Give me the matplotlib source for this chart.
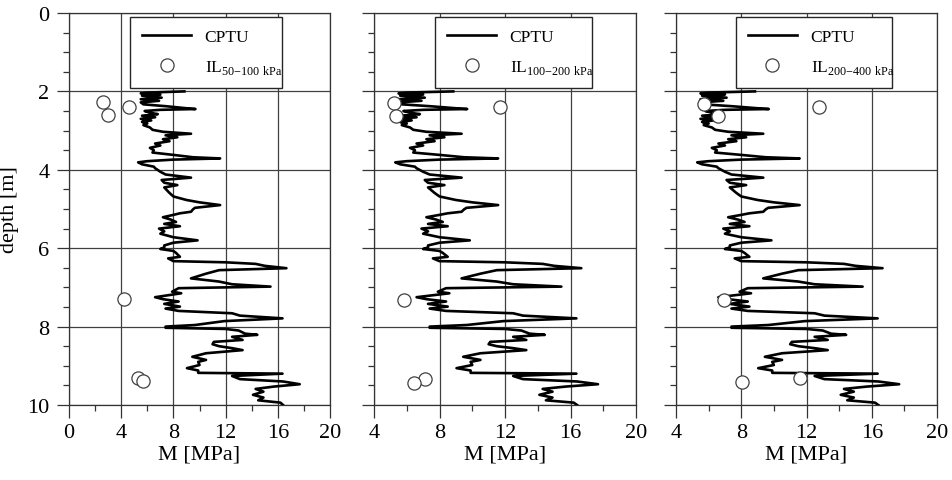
import matplotlib
matplotlib.use("Agg")
import matplotlib.pyplot as plt
from matplotlib.lines import Line2D
from matplotlib.ticker import MultipleLocator

plt.rcParams['font.family'] = ['Liberation Serif', 'DejaVu Serif']
plt.rcParams['mathtext.fontset'] = 'custom'
plt.rcParams['mathtext.rm'] = 'Liberation Serif'

# CPTU constrained modulus profile (depth [m], M [MPa])
cptu_depth = [2.00, 2.03, 2.05, 2.08, 2.11, 2.16, 2.20, 2.24, 2.28, 2.33, 2.38, 2.43, 2.45, 2.47,
              2.50, 2.55, 2.58, 2.62, 2.66, 2.70, 2.74, 2.78, 2.82, 2.86, 2.92, 2.98, 3.03, 3.08,
              3.12, 3.17, 3.22, 3.27, 3.33, 3.38, 3.44, 3.50, 3.56, 3.62, 3.68, 3.71, 3.74, 3.78,
              3.81, 3.86, 3.92, 3.96, 4.05, 4.12, 4.20, 4.26, 4.33, 4.39, 4.45, 4.52, 4.59, 4.68,
              4.77, 4.83, 4.90, 4.97, 5.01, 5.07, 5.11, 5.15, 5.21, 5.27, 5.33, 5.38, 5.44, 5.50,
              5.57, 5.63, 5.72, 5.80, 5.86, 5.93, 5.98, 6.02, 6.07, 6.12, 6.22, 6.26, 6.33, 6.36,
              6.40, 6.45, 6.51, 6.56, 6.65, 6.77, 6.85, 6.92, 6.98, 7.02, 7.11, 7.15, 7.25, 7.30,
              7.36, 7.42, 7.49, 7.54, 7.60, 7.66, 7.72, 7.79, 7.86, 7.96, 8.00, 8.03, 8.06, 8.10,
              8.18, 8.21, 8.26, 8.34, 8.39, 8.45, 8.50, 8.55, 8.60, 8.68, 8.77, 8.85, 8.90, 8.98,
              9.06, 9.12, 9.18, 9.20, 9.26, 9.34, 9.40, 9.47, 9.53, 9.59, 9.66, 9.74, 9.81, 9.88,
              9.94, 10.00]
cptu_M = [8.84, 6.0, 5.5, 7.0, 5.6, 7.1, 5.5, 6.9, 5.5, 5.7, 7.5, 9.0, 9.69, 7.0,
          5.8, 6.3, 6.8, 5.6, 6.6, 5.5, 6.3, 5.6, 6.0, 5.7, 6.2, 6.4, 7.2, 9.35,
          7.4, 8.3, 7.2, 7.7, 6.6, 7.0, 6.2, 6.5, 6.4, 8.0, 9.5, 11.58, 8.0, 6.0,
          5.3, 5.6, 6.5, 6.6, 7.0, 7.4, 9.35, 7.1, 7.3, 8.3, 7.3, 7.5, 7.7, 8.0,
          9.0, 10.0, 11.58, 9.65, 9.5, 9.35, 8.5, 8.0, 7.2, 7.8, 8.2, 7.3, 8.5, 6.9,
          7.3, 7.0, 8.0, 9.85, 8.0, 7.3, 7.3, 7.0, 8.0, 8.2, 8.5, 7.6, 8.0, 12.0,
          14.3, 15.0, 16.66, 11.5, 10.5, 9.35, 11.48, 12.5, 15.44, 8.4, 7.9, 8.6, 6.6, 7.2,
          8.4, 7.3, 8.5, 7.4, 8.4, 12.5, 13.1, 16.36, 11.9, 9.65, 7.4, 7.4, 12.0, 13.0,
          13.5, 14.43, 12.5, 13.3, 11.1, 11.0, 11.5, 12.5, 13.3, 10.5, 9.45, 10.5, 9.9, 10.0,
          9.04, 9.9, 9.9, 16.36, 12.5, 13.1, 16.4, 17.68, 15.7, 14.3, 14.9, 14.1, 14.9, 14.5,
          16.2, 16.4]

# Incremental loading oedometer results
il_depth_1 = [2.27, 2.39, 2.59, 7.30, 9.32, 9.40]
il_M_1 = [2.6, 4.62, 2.96, 4.21, 5.31, 5.7]
il_depth_2 = [2.30, 2.62, 2.41, 7.32, 9.34, 9.44]
il_M_2 = [5.22, 5.32, 11.7, 5.83, 7.11, 6.46]
il_depth_3 = [2.33, 2.62, 2.41, 7.32, 9.32, 9.42]
il_M_3 = [5.71, 6.59, 12.75, 6.96, 11.58, 8.04]

il_labels = [r'IL$_{\mathrm{50{-}100\ kPa}}$',
             r'IL$_{\mathrm{100{-}200\ kPa}}$',
             r'IL$_{\mathrm{200{-}400\ kPa}}$']
xlims = [(0, 20), (4, 20), (4, 20)]
xticks = [[0, 4, 8, 12, 16, 20], [4, 8, 12, 16, 20], [4, 8, 12, 16, 20]]
yticks = [0, 2, 4, 6, 8, 10]

fig = plt.figure(figsize=(9.52, 4.81), dpi=100)
lefts = [69 / 952, 374 / 952, 676 / 952]
widths = [261 / 952, 262 / 952, 261 / 952]
bottom = (481 - 406) / 481
height = 392 / 481
legend_x = [0.234, 0.233, 0.230]
legend_w = [0.582, 0.599, 0.598]

il_d = [il_depth_1, il_depth_2, il_depth_3]
il_m = [il_M_1, il_M_2, il_M_3]

for i in range(3):
    ax = fig.add_axes([lefts[i], bottom, widths[i], height])
    ax.plot(cptu_M, cptu_depth, color='black', lw=1.9, zorder=3)
    ax.plot(il_m[i], il_d[i], 'o', ms=9.5, mfc='white', mec='0.25', mew=0.9, zorder=4)
    ax.set_xlim(*xlims[i])
    ax.set_ylim(10, 0)
    ax.set_xticks(xticks[i])
    ax.set_yticks(yticks)
    ax.xaxis.set_minor_locator(MultipleLocator(2))
    ax.yaxis.set_minor_locator(MultipleLocator(0.5))
    ax.grid(True, which='major', color='0.25', lw=0.9, zorder=1)
    ax.set_axisbelow(True)
    ax.tick_params(which='major', direction='out', length=9, width=0.9, labelsize=16, pad=4, color='0.2')
    ax.tick_params(which='minor', direction='out', length=4.5, width=0.9, color='0.2')
    for s in ax.spines.values():
        s.set_color('0.2')
        s.set_linewidth(0.9)
    ax.set_xlabel('M [MPa]', fontsize=16, labelpad=2)
    if i == 0:
        ax.set_ylabel('depth [m]', fontsize=16)
        ax.yaxis.set_label_coords(-0.19, 0.5)
        ax.tick_params(axis='y', pad=5)
    else:
        ax.tick_params(axis='y', labelleft=False)
    handles = [Line2D([], [], color='black', lw=1.9),
               Line2D([], [], marker='o', ls='none', ms=9.5, mfc='white', mec='0.25', mew=0.9)]
    leg = ax.legend(handles, ['CPTU', il_labels[i]], loc='upper left',
                    bbox_to_anchor=(legend_x[i], 0.805, legend_w[i], 0.185), mode='expand',
                    fontsize=12.5, frameon=True, fancybox=False, framealpha=1,
                    edgecolor='0.15', handlelength=2.8, handletextpad=0.8,
                    borderpad=0.7, labelspacing=0.75, borderaxespad=0)
    leg.get_frame().set_linewidth(1.0)
    leg.set_zorder(5)

fig.savefig('out.png', dpi=100)
